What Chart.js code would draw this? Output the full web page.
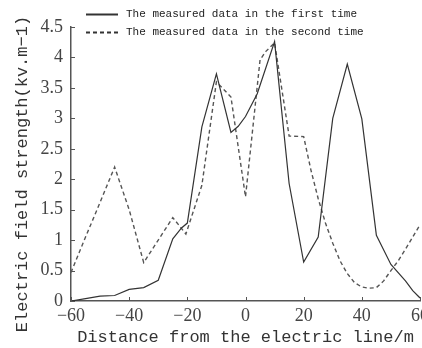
<!DOCTYPE html>
<html>
<head>
<meta charset="utf-8">
<script src="https://cdn.jsdelivr.net/npm/chart.js@4.4.1/dist/chart.umd.min.js"></script>
<style>
  html, body { margin: 0; padding: 0; background: #fff; overflow: hidden; }
  #wrap { width: 460px; height: 348px; }
</style>
</head>
<body>
<div id="wrap"><canvas id="chart" width="460" height="348"></canvas></div>
<script>
// distance from the line (m) and field strength (kV/m)
const firstX = [-60, -55, -50, -45, -40, -35, -30, -25, -22, -20, -15, -10, -5, -2.5, 0, 4, 10, 15, 20, 25, 30, 35, 40, 45, 50, 55, 57.5, 60];
const firstY = [0, 0.04, 0.08, 0.09, 0.19, 0.22, 0.34, 1.02, 1.2, 1.28, 2.86, 3.73, 2.77, 2.87, 3.03, 3.4, 4.26, 1.93, 0.64, 1.05, 3.0, 3.89, 2.99, 1.08, 0.6, 0.33, 0.17, 0.05];

const secondX = [-60, -55, -50, -45, -40, -35, -30, -25, -20.5, -15, -10, -5, 0, 5, 7, 10, 15, 20, 22.5, 25, 27.5, 30, 32.5, 35, 37.5, 40, 42.5, 45, 47.5, 50, 52.5, 55, 57.5, 60];
const secondY = [0.47, 1.05, 1.62, 2.2, 1.5, 0.63, 1.0, 1.37, 1.1, 1.9, 3.6, 3.35, 1.71, 3.96, 4.1, 4.24, 2.71, 2.7, 2.15, 1.68, 1.28, 0.95, 0.66, 0.45, 0.3, 0.23, 0.21, 0.22, 0.33, 0.5, 0.66, 0.85, 1.05, 1.25];

const seriesNames = ["The measured data in the first time", "The measured data in the second time"];
const xTitle = "Distance from the electric line/m";
const yTitle = "Electric field strength(kv.m\u22121)";

const toPoints = (xs, ys) => xs.map((x, i) => ({ x: x, y: ys[i] }));
const minus = (v) => String(v).replace("-", "\u2212");

// ticks pointing into the plot, legend drawn over the top, rotated y title
const extras = {
  id: "extras",
  afterDatasetsDraw(chart) {
    const ctx = chart.ctx;
    const xs = chart.scales.x;
    const ys = chart.scales.y;
    const area = chart.chartArea;
    ctx.save();
    ctx.strokeStyle = "#555";
    ctx.lineWidth = 1;
    xs.ticks.forEach((t) => {
      const px = Math.round(xs.getPixelForValue(t.value)) + 0.5;
      ctx.beginPath();
      ctx.moveTo(px, area.bottom);
      ctx.lineTo(px, area.bottom - 4);
      ctx.stroke();
    });
    ys.ticks.forEach((t) => {
      const py = Math.round(ys.getPixelForValue(t.value)) + 0.5;
      ctx.beginPath();
      ctx.moveTo(area.left, py);
      ctx.lineTo(area.left + 4, py);
      ctx.stroke();
    });

    // legend
    ctx.font = "11px 'Liberation Mono', monospace";
    ctx.textBaseline = "middle";
    ctx.fillStyle = "#222";
    chart.data.datasets.forEach((ds, i) => {
      const y = 14.5 + i * 18;
      ctx.beginPath();
      ctx.strokeStyle = "#333";
      ctx.lineWidth = 2;
      ctx.setLineDash(ds.borderDash || []);
      ctx.moveTo(86, y);
      ctx.lineTo(118, y);
      ctx.stroke();
      ctx.setLineDash([]);
      ctx.fillText(ds.label, 126, y);
    });

    // y axis title
    ctx.translate(22, 174);
    ctx.rotate(-Math.PI / 2);
    ctx.font = "17px 'Liberation Mono', monospace";
    ctx.textAlign = "center";
    ctx.fillStyle = "#333";
    ctx.fillText(yTitle, 0, 0);
    ctx.restore();
  }
};

const ctx = document.getElementById("chart").getContext("2d");
new Chart(ctx, {
  type: "line",
  data: {
    datasets: [
      {
        label: seriesNames[0],
        data: toPoints(firstX, firstY),
        borderColor: "#333",
        borderWidth: 1.2,
        pointRadius: 0,
        tension: 0,
        fill: false,
      },
      {
        label: seriesNames[1],
        data: toPoints(secondX, secondY),
        borderColor: "#555",
        borderWidth: 1.4,
        borderDash: [4, 3],
        pointRadius: 0,
        tension: 0,
        fill: false,
      },
    ],
  },
  options: {
    responsive: false,
    animation: false,
    devicePixelRatio: 1,
    layout: { padding: { top: 27, right: 40, bottom: 0, left: 0 } },
    plugins: {
      legend: { display: false },
      tooltip: { enabled: false },
    },
    scales: {
      x: {
        type: "linear",
        min: -60,
        max: 60,
        afterFit: (s) => { s.height = 47; },
        ticks: {
          stepSize: 20,
          padding: 4,
          color: "#444",
          font: { family: "'Liberation Serif', serif", size: 18 },
          callback: (v) => minus(v),
        },
        grid: { drawOnChartArea: false, drawTicks: false },
        border: { display: true, color: "#555", width: 1.5 },
        title: {
          display: true,
          text: xTitle,
          color: "#333",
          padding: 0,
          font: { family: "'Liberation Mono', monospace", size: 17 },
        },
      },
      y: {
        min: 0,
        max: 4.5,
        afterFit: (s) => { s.width = 71; },
        ticks: {
          stepSize: 0.5,
          padding: 8,
          color: "#444",
          font: { family: "'Liberation Serif', serif", size: 18 },
          callback: (v) => String(v),
        },
        grid: { drawOnChartArea: false, drawTicks: false },
        border: { display: true, color: "#555", width: 1.5 },
      },
    },
  },
  plugins: [extras],
});
</script>
</body>
</html>
